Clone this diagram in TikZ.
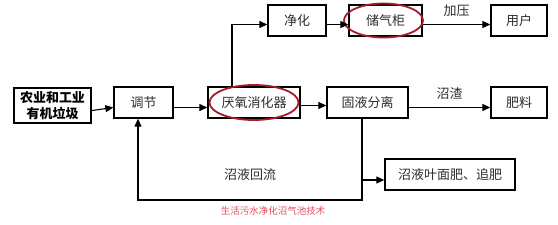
\documentclass[tikz,border=0pt]{standalone}
\usepackage{fontspec}
\usepackage{tikz}
\usetikzlibrary{positioning,arrows.meta,calc}
\setmainfont{Noto Sans CJK SC}
\definecolor{ringred}{RGB}{165,28,42}
\definecolor{notered}{RGB}{226,78,96}
\definecolor{ink}{RGB}{45,45,45}

\begin{document}
\begin{tikzpicture}[x=1pt,y=-1pt,
    stage/.style={draw=black,line width=1.3pt,inner sep=0pt,minimum height=31pt,
      text=ink,font=\fontsize{13}{16}\selectfont},
    flow/.style={line width=1.1pt,-{Triangle[length=8pt,width=7pt]}},
    ring/.style={ringred,line width=1.8pt},
    tag/.style={text=ink,font=\fontsize{13}{16}\selectfont}]
        \useasboundingbox (0,0) rectangle (558,225);
        % boxes
        \node[stage,line width=2.4pt,minimum width=77pt,minimum height=35pt,align=center,
          font=\fontsize{13}{16}\selectfont\bfseries,text=black] (waste) at (52.5,105.5) {农业和工业\\有机垃圾};
        \node[stage,minimum width=59pt,minimum height=31pt] (adj) at (143.5,102.5) {调节};
        \node[stage,minimum width=92pt] (dig) at (254,102.5) {厌氧消化器};
        \node[stage,minimum width=81pt] (sep) at (367.5,102.5) {固液分离};
        \node[stage,minimum width=56pt] (fert) at (519,102.5) {肥料};
        \node[stage,minimum width=58pt] (pur) at (297,20.5) {净化};
        \node[stage,minimum width=73pt] (tank) at (385.5,20.5) {储气柜};
        \node[stage,minimum width=56pt] (user) at (519,20.5) {用户};
        \node[stage,minimum width=130pt] (leaf) at (450,174.5) {沼液叶面肥、追肥};
        % red marks
        \draw[ring] (dig.center) ellipse (44.5pt and 17.5pt);
        \draw[ring] ([xshift=-2pt]tank.center) ellipse (39.5pt and 17pt);
        % flows
        \draw[flow] ([yshift=-5pt]waste.east) -- ([yshift=-5pt]adj.west);
        \draw[flow] ([yshift=-5pt]adj.east) -- ([yshift=-5pt]dig.west);
        \draw[flow] ([yshift=-3pt]dig.east) -- ([yshift=-3pt]sep.west);
        \draw[flow] ([yshift=-5pt]sep.east) -- node[tag,above=4pt] {沼渣} ([yshift=-5pt]fert.west);
        \draw[flow] ([xshift=-22pt]dig.north) |- ([yshift=-4pt]pur.west);
        \draw[flow] ([yshift=-4pt]pur.east) -- ([yshift=-4pt]tank.west);
        \draw[flow] ([yshift=-4pt]tank.east) -- node[tag,above=4pt] {加压} ([yshift=-4pt]user.west);
        \coordinate (back) at (362,200);
        \draw[flow] ([xshift=-5.5pt]sep.south) -- (back) -| ([xshift=-5.5pt]adj.south);
        \draw[flow] ([yshift=-5.5pt]leaf.west -| back) -- ([yshift=-5.5pt]leaf.west);
        % labels
        \node[tag] (reflux) at (250,175) {沼液回流};
        \node[text=notered,font=\fontsize{9.5}{11}\selectfont] (note) at (273,211) {生活污水净化沼气池技术};
      \end{tikzpicture}
\end{document}
